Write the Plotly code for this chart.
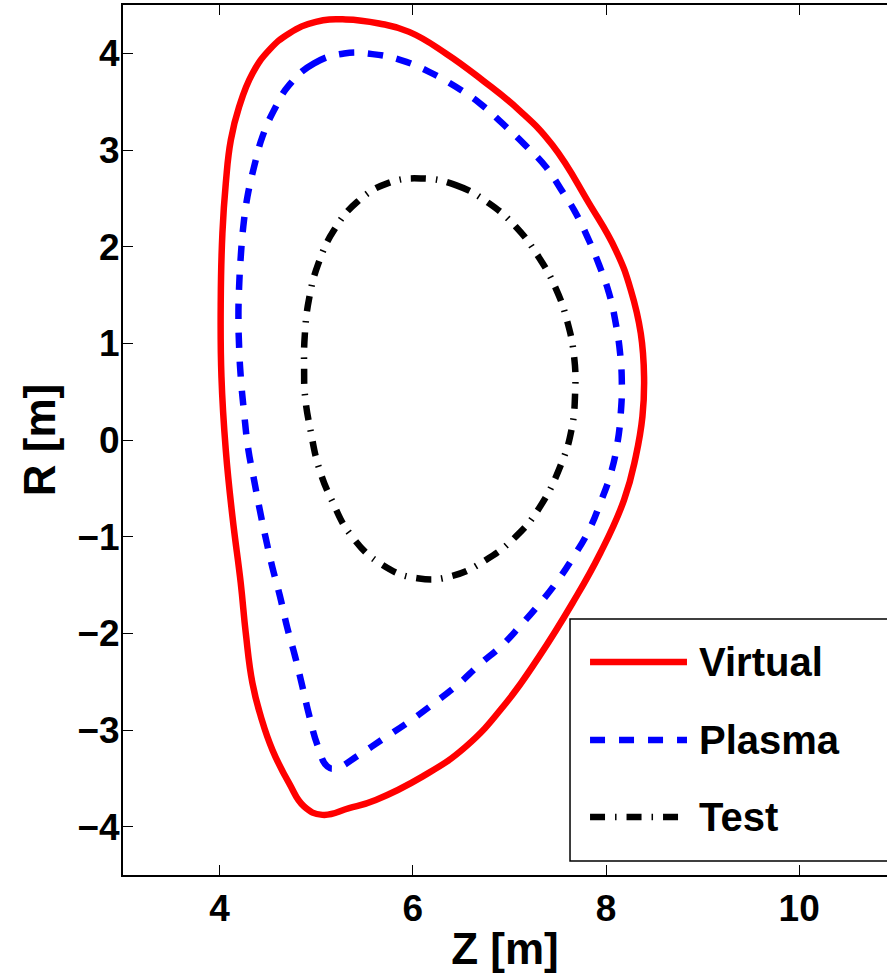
import plotly.graph_objects as go

# ---- data (Z [m], R [m]) ----
virtual_z = [5.306, 4.996, 4.719, 4.512, 4.340, 4.202, 4.116, 4.064, 4.029, 4.012, 4.019, 4.064,
             4.133, 4.219, 4.271, 4.340, 4.427, 4.547, 4.719, 4.875, 5.064, 5.341, 5.617, 6.099,
             6.549, 6.963, 7.307, 7.652, 7.940, 8.187, 8.308, 8.377, 8.394, 8.360, 8.257, 8.101,
             7.825, 7.445, 7.100, 6.720, 6.342, 5.962, 5.651, 5.306]
virtual_r = [4.351, 4.326, 4.206, 4.033, 3.792, 3.447, 3.102, 2.655, 2.138, 1.448, 0.655, -0.103,
             -0.793, -1.482, -1.999, -2.516, -2.861, -3.206, -3.550, -3.792, -3.878, -3.809, -3.723, -3.482,
             -3.172, -2.723, -2.241, -1.689, -1.172, -0.620, -0.173, 0.241, 0.655, 1.103, 1.551, 1.965,
             2.448, 3.051, 3.413, 3.723, 3.999, 4.222, 4.309, 4.351]

plasma_z = [5.289, 4.978, 4.719, 4.564, 4.443, 4.357, 4.288, 4.245, 4.219, 4.202, 4.195, 4.202,
            4.219, 4.254, 4.298, 4.357, 4.416, 4.478, 4.547, 4.624, 4.702, 4.782, 4.857, 4.926,
            5.012, 5.116, 5.203, 5.444, 5.703, 5.962, 6.220, 6.462, 6.686, 6.928, 7.112, 7.287,
            7.480, 7.659, 7.825, 7.946, 8.050, 8.118, 8.153, 8.164, 8.146, 8.101, 8.032, 7.929,
            7.807, 7.670, 7.556, 7.377, 7.163, 6.928, 6.704, 6.445, 6.169, 5.876, 5.582, 5.289]
plasma_r = [3.999, 3.896, 3.671, 3.413, 3.137, 2.826, 2.516, 2.206, 1.896, 1.585, 1.275, 0.965,
            0.655, 0.276, -0.103, -0.414, -0.724, -1.017, -1.318, -1.613, -1.947, -2.241, -2.551, -2.844,
            -3.154, -3.378, -3.395, -3.257, -3.085, -2.913, -2.723, -2.534, -2.327, -2.120, -1.923, -1.724,
            -1.482, -1.215, -0.931, -0.638, -0.344, -0.034, 0.276, 0.586, 0.897, 1.207, 1.517, 1.810,
            2.102, 2.378, 2.559, 2.826, 3.051, 3.275, 3.475, 3.654, 3.809, 3.930, 3.992, 3.999]

test_z = [6.083, 6.445, 6.790, 7.066, 7.290, 7.480, 7.600, 7.670, 7.680, 7.642, 7.532, 7.307,
          7.066, 6.756, 6.410, 6.048, 5.685, 5.358, 5.168, 5.030, 4.944, 4.885, 4.875, 4.882,
          4.927, 5.023, 5.185, 5.426, 5.737, 6.083]
test_r = [2.706, 2.637, 2.448, 2.206, 1.913, 1.569, 1.223, 0.861, 0.483, 0.103, -0.259, -0.706,
          -1.000, -1.241, -1.406, -1.430, -1.293, -0.982, -0.638, -0.293, 0.086, 0.448, 0.724, 1.086,
          1.465, 1.827, 2.172, 2.464, 2.655, 2.706]

series_names = ["Virtual", "Plasma", "Test"]
x_ticks = [4, 6, 8, 10]
y_ticks = [-4, -3, -2, -1, 0, 1, 2, 3, 4]

FONT = "Liberation Sans, Arial, Helvetica, sans-serif"
LW = 6.5
styles = [
    dict(color="#ff0000", width=LW, dash="solid"),
    dict(color="#0000ff", width=LW, dash="15px,14px"),
    dict(color="#000000", width=LW, dash="15px,10px,1.5px,10px"),
]

fig = go.Figure()
for name, zs, rs, st in zip(series_names, [virtual_z, plasma_z, test_z],
                            [virtual_r, plasma_r, test_r], styles):
    fig.add_trace(go.Scatter(x=zs, y=rs, mode="lines", name=name, showlegend=False,
                             line=dict(color=st["color"], width=st["width"], dash=st["dash"],
                                       shape="spline", smoothing=1.3)))

# ---- custom legend box (MATLAB style, long line samples) ----
fig.add_shape(type="rect", xref="paper", yref="paper", x0=0.5851, x1=1.05, y0=0.0161, y1=0.2943,
              line=dict(color="black", width=1.5), fillcolor="white", layer="above")
leg_y = [0.2448, 0.1552, 0.0667]
for name, st, yy in zip(series_names, styles, leg_y):
    fig.add_shape(type="line", xref="paper", yref="paper", x0=0.6113, x1=0.7382, y0=yy, y1=yy,
                  line=dict(color=st["color"], width=st["width"], dash=st["dash"]), layer="above")
    fig.add_annotation(text=name, xref="paper", yref="paper", x=0.7513, y=yy,
                       xanchor="left", yanchor="middle", showarrow=False,
                       font=dict(family=FONT, size=40, color="black", weight="bold"))

fig.update_layout(
    width=887, height=978,
    margin=dict(l=123, r=0, t=5, b=103, pad=0),
    paper_bgcolor="white", plot_bgcolor="white",
    showlegend=False,
    font=dict(family=FONT, color="black"),
)
fig.update_xaxes(range=[3, 3 + 764 / 96.6], tickvals=x_ticks, ticks="inside", ticklen=10, tickwidth=1.2,
                 tickcolor="black", showline=True, linecolor="black", linewidth=2, mirror="ticks",
                 showgrid=False, zeroline=False,
                 tickfont=dict(family=FONT, size=37, color="black", weight="bold"),
                 title=dict(text="Z [m]", font=dict(family=FONT, size=44, color="black", weight="bold"),
                            standoff=5))
fig.update_yaxes(range=[-4.5, 4.5], tickvals=y_ticks, ticks="inside", ticklen=10, tickwidth=1.2,
                 tickcolor="black", showline=True, linecolor="black", linewidth=2, mirror=False,
                 showgrid=False, zeroline=False, ticklabelstandoff=-6,
                 tickfont=dict(family=FONT, size=37, color="black", weight="bold"),
                 title=dict(text="R [m]", font=dict(family=FONT, size=44, color="black", weight="bold"),
                            standoff=8))

fig.write_html("out.html", config={"displayModeBar": False},
               post_script="document.body.style.margin='0';document.body.style.overflow='hidden';"
                           "document.documentElement.style.overflow='hidden';")
